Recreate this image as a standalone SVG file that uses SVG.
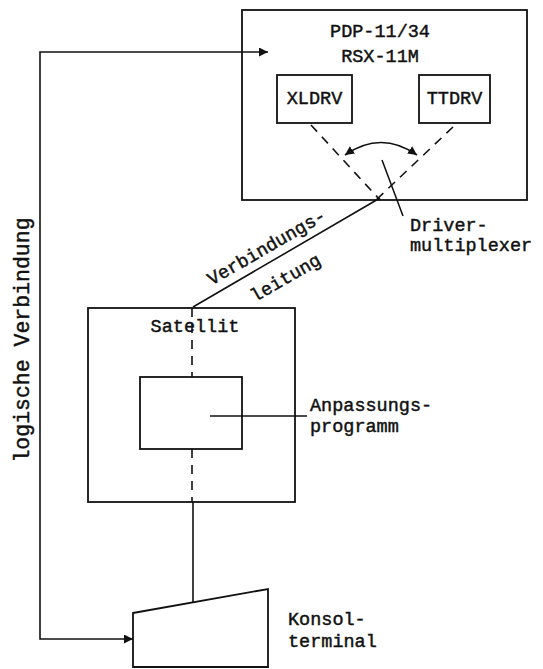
<svg xmlns="http://www.w3.org/2000/svg" width="543" height="669" viewBox="0 0 543 669">
<style>
.box{fill:none;stroke:#111;stroke-width:1.8}
.ln{fill:none;stroke:#111;stroke-width:1.6}
.dash{fill:none;stroke:#111;stroke-width:1.6;stroke-dasharray:9 7}
text{font-family:"Liberation Mono","Courier New",monospace;font-size:18.5px;fill:#111;stroke:#111;stroke-width:0.45}
.c{text-anchor:middle}
.big{font-size:21.5px}
</style>
<defs>
<marker id="ah" viewBox="0 0 10 10" refX="10" refY="5" markerWidth="9" markerHeight="9" markerUnits="userSpaceOnUse" orient="auto-start-reverse">
<path d="M0,0 L10,5 L0,10 Z" fill="#111"/>
</marker>
</defs>
<rect width="543" height="669" fill="#fff"/>
<g id="connectors">
<path class="ln" d="M268,52 H40 V639 H133" marker-start="url(#ah)" marker-end="url(#ah)"/>
<path class="ln" d="M193,307 L380,198" stroke-width="2.2"/>
<path class="ln" d="M193,502 V602"/>
<path class="ln" d="M382,160 L403,216"/>
<path class="ln" d="M210,416 H307"/>
<path class="ln" d="M345,155 Q381,130 417,155" marker-start="url(#ah)" marker-end="url(#ah)"/>
</g>
<g id="pdp">
<rect class="box" x="242" y="10" width="285" height="190"/>
<text class="c" x="380" y="37">PDP-11/34</text>
<text class="c" x="380" y="62">RSX-11M</text>
</g>
<g id="xldrv">
<rect class="box" x="277" y="75" width="75" height="48"/>
<text class="c" x="314.5" y="104">XLDRV</text>
</g>
<g id="ttdrv">
<rect class="box" x="419" y="75" width="71" height="48"/>
<text class="c" x="454.5" y="104">TTDRV</text>
</g>
<g id="multiplexer">
<path class="dash" d="M311,125 L380,200"/>
<path class="dash" d="M453,127 L376,200"/>
<text x="410" y="231">Driver-</text>
<text x="410" y="251">multiplexer</text>
</g>
<g id="leitung-label">
<text class="c" transform="translate(269.5,252.3) rotate(-30)">Verbindungs-</text>
<text class="c" transform="translate(288.5,283) rotate(-30)">leitung</text>
</g>
<g id="satellit">
<rect class="box" x="88" y="308" width="207" height="194"/>
<text class="c" x="195" y="332">Satellit</text>
<path class="dash" d="M192,308 V377"/>
<path class="dash" d="M192,449 V502"/>
</g>
<g id="anpassung">
<rect class="box" x="140" y="377" width="102" height="72"/>
<text x="310" y="411">Anpassungs-</text>
<text x="310" y="432">programm</text>
</g>
<g id="terminal">
<path class="box" d="M133,613 L268,589 L268,667 L133,667 Z"/>
<text x="288" y="625">Konsol-</text>
<text x="288" y="647">terminal</text>
</g>
<g id="logic-label">
<text class="c big" transform="translate(29,340) rotate(-90)">logische   Verbindung</text>
</g>
</svg>
